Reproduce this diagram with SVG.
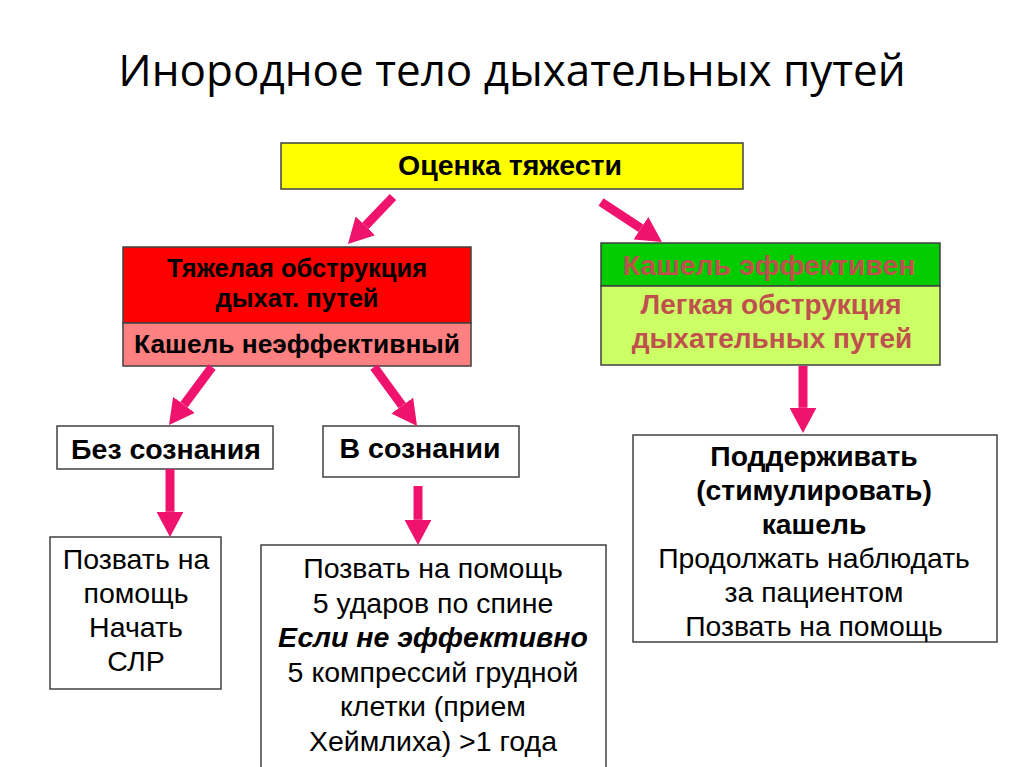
<svg xmlns="http://www.w3.org/2000/svg" width="1024" height="767" viewBox="0 0 1024 767">
<defs>
<marker id="ah" viewBox="0 0 2.8 3" markerWidth="2.8" markerHeight="3" refX="0" refY="1.5" orient="auto" markerUnits="strokeWidth">
<path d="M0,0 L2.8,1.5 L0,3 z" fill="#F0136E"/>
</marker>
<style>
.box{stroke:#404040;stroke-width:1.5}
.t{font-family:"Liberation Sans",Arial,sans-serif;text-anchor:middle;fill:#000}
.b{font-weight:bold}
.br{fill:#C0504D}
.arr{stroke:#F0136E;stroke-width:9;fill:none;marker-end:url(#ah)}
</style>
</defs>
<rect width="1024" height="767" fill="#fff"/>
<text x="512" y="86" class="t" style="font-family:'Open Sans','Liberation Sans',sans-serif;font-size:44px">Инородное тело дыхательных путей</text>

<g id="n-ocenka">
<rect class="box" x="281" y="143" width="462" height="46" fill="#FFFF00"/>
<text x="510" y="175" class="t b" font-size="28.5">Оценка тяжести</text>
</g>

<g id="n-severe">
<rect class="box" x="123" y="247" width="348" height="76" fill="#FF0000"/>
<rect class="box" x="123" y="323" width="348" height="43" fill="#FF8080"/>
<text x="297" y="277" class="t b" font-size="25.5">Тяжелая обструкция</text>
<text x="297" y="307" class="t b" font-size="25.5">дыхат. путей</text>
<text x="297" y="353" class="t b" font-size="26.3">Кашель неэффективный</text>
</g>

<g id="n-mild">
<rect class="box" x="601" y="243" width="339" height="43" fill="#00CC00"/>
<rect class="box" x="601" y="286" width="339" height="79" fill="#CCFF66"/>
<text x="769" y="275" class="t b br" font-size="28.4">Кашель эффективен</text>
<text x="771" y="314" class="t b br" font-size="28">Легкая обструкция</text>
<text x="772" y="348" class="t b br" font-size="28">дыхательных путей</text>
</g>

<g id="n-unconscious">
<rect class="box" x="57" y="426" width="216" height="43" fill="#fff"/>
<text x="166" y="459" class="t b" font-size="28.5">Без сознания</text>
</g>

<g id="n-conscious">
<rect class="box" x="323" y="426" width="196" height="51" fill="#fff"/>
<text x="420" y="458" class="t b" font-size="28.5">В сознании</text>
</g>

<g id="n-cpr">
<rect class="box" x="50" y="537" width="171" height="152" fill="#fff"/>
<text class="t" font-size="28.5"><tspan x="136" y="569">Позвать на</tspan><tspan x="136" y="603">помощь</tspan><tspan x="136" y="637">Начать</tspan><tspan x="136" y="671">СЛР</tspan></text>
</g>

<g id="n-backblows">
<rect class="box" x="261" y="545" width="345" height="230" fill="#fff"/>
<text class="t" font-size="28.5"><tspan x="433" y="578">Позвать на помощь</tspan><tspan x="433" y="612.5">5 ударов по спине</tspan><tspan x="433" y="647" font-weight="bold" font-style="italic">Если не эффективно</tspan><tspan x="433" y="681.5">5 компрессий грудной</tspan><tspan x="433" y="716">клетки (прием</tspan><tspan x="433" y="750.5">Хеймлиха) &gt;1 года</tspan></text>
</g>

<g id="n-cough">
<rect class="box" x="633" y="435" width="364" height="207" fill="#fff"/>
<text class="t" font-size="28.3"><tspan x="814" y="466" font-weight="bold">Поддерживать</tspan><tspan x="814" y="500" font-weight="bold">(стимулировать)</tspan><tspan x="814" y="534" font-weight="bold">кашель</tspan><tspan x="814" y="568">Продолжать наблюдать</tspan><tspan x="814" y="602">за пациентом</tspan><tspan x="814" y="636">Позвать на помощь</tspan></text>
</g>

<g id="connectors">
<line class="arr" x1="393" y1="197" x2="365.4" y2="225.8"/>
<line class="arr" x1="601" y1="202" x2="640.9" y2="228.2"/>
<line class="arr" x1="212" y1="367" x2="184" y2="404.8"/>
<line class="arr" x1="374" y1="367" x2="402.2" y2="405.6"/>
<line class="arr" x1="170" y1="469" x2="170" y2="511.8"/>
<line class="arr" x1="418" y1="486" x2="418" y2="519.8"/>
<line class="arr" x1="803" y1="366" x2="803" y2="407.8"/>
</g>
</svg>
